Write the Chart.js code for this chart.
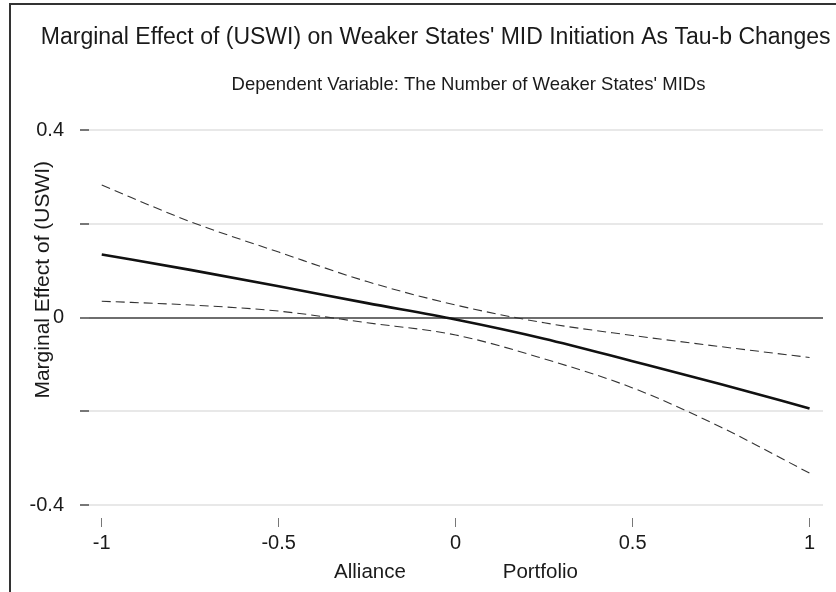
<!DOCTYPE html>
<html>
<head>
<meta charset="utf-8">
<title>Marginal Effect of (USWI)</title>
<script src="https://cdn.jsdelivr.net/npm/chart.js@4/dist/chart.umd.min.js"></script>
<style>
    html, body { margin: 0; padding: 0; background: #fff; overflow: hidden; width: 836px; height: 592px; }
    #frame { position: absolute; left: 9px; top: 3px; width: 2000px; height: 2000px; border: 2px solid #333; }
    #chart { position: absolute; left: 0; top: 0; }
</style>
</head>
<body>
<div id="frame"></div>
<canvas id="chart" width="909" height="592"></canvas>
<script>
// Tau-b values where the marginal effect was evaluated
const tauPoints = [-1, -0.75, -0.5, -0.25, 0, 0.25, 0.5, 0.75, 1];
// Marginal effect of USWI and its confidence bounds
const marginalEffect = [0.135, 0.102, 0.067, 0.031, -0.004, -0.045, -0.093, -0.142, -0.194];
const upperBound = [0.283, 0.205, 0.140, 0.077, 0.027, -0.011, -0.038, -0.062, -0.085];
const lowerBound = [0.035, 0.027, 0.014, -0.011, -0.037, -0.088, -0.150, -0.234, -0.332];

// Axis ticks
const xTickValues = [-1, -0.5, 0, 0.5, 1];
const xTickLabels = ['-1', '-0.5', '0', '0.5', '1'];
const yTickValues = [-0.4, -0.2, 0, 0.2, 0.4];
const yTickLabels = ['-0.4', '', '0', '', '0.4'];

const FONT = '"Liberation Sans", Arial, Helvetica, sans-serif';
const TEXT_COLOR = '#1a1a1a';

function toPoints(values) {
    return tauPoints.map((x, i) => ({ x: x, y: values[i] }));
}

const ciStyle = {
    borderColor: '#333',
    borderWidth: 1.1,
    borderDash: [9, 5],
    pointRadius: 0,
    cubicInterpolationMode: 'monotone',
    fill: false
};

const ctx = document.getElementById('chart');
new Chart(ctx, {
    type: 'line',
    data: {
        datasets: [
            Object.assign({ label: 'Upper bound', data: toPoints(upperBound) }, ciStyle),
            Object.assign({ label: 'Lower bound', data: toPoints(lowerBound) }, ciStyle),
            {
                label: 'Marginal effect',
                data: toPoints(marginalEffect),
                borderColor: '#111',
                borderWidth: 2.6,
                pointRadius: 0,
                cubicInterpolationMode: 'monotone',
                fill: false
            }
        ]
    },
    options: {
        responsive: false,
        animation: false,
        devicePixelRatio: 1,
        layout: {
            padding: { left: 28, right: 0, top: 0, bottom: 0 }
        },
        plugins: {
            legend: { display: false },
            tooltip: { enabled: false },
            title: {
                display: true,
                // two leading spaces set the title in from the frame like the original
                text: "  Marginal Effect of (USWI) on Weaker States' MID Initiation As Tau-b Changes",
                align: 'start',
                color: TEXT_COLOR,
                font: { family: FONT, size: 23, weight: 'normal', lineHeight: 1.2 },
                padding: { top: 24, bottom: 0 }
            },
            subtitle: {
                display: true,
                text: "Dependent Variable: The Number of Weaker States' MIDs",
                color: TEXT_COLOR,
                font: { family: FONT, size: 18.5, weight: 'normal', lineHeight: 1.2 },
                padding: { top: 22, bottom: 34.5 }
            }
        },
        scales: {
            x: {
                type: 'linear',
                min: -1.036,
                max: 1.038,
                afterBuildTicks: axis => {
                    axis.ticks = xTickValues.map(v => ({ value: v }));
                },
                afterFit: axis => {
                    axis.height = 87;
                },
                border: { display: false },
                grid: {
                    drawOnChartArea: false,
                    drawTicks: true,
                    tickLength: 22,
                    tickColor: '#777',
                    tickWidth: 1,
                    tickBorderDash: [0, 13, 9, 100]
                },
                ticks: {
                    color: TEXT_COLOR,
                    font: { family: FONT, size: 20 },
                    padding: 4,
                    maxRotation: 0,
                    callback: (value, index) => xTickLabels[index]
                },
                title: {
                    display: true,
                    text: 'Alliance                 Portfolio',
                    color: TEXT_COLOR,
                    font: { family: FONT, size: 20.5, lineHeight: 1.2 },
                    padding: { top: 0, bottom: 7 }
                }
            },
            y: {
                type: 'linear',
                position: 'left',
                min: -0.4,
                max: 0.4,
                afterBuildTicks: axis => {
                    axis.ticks = yTickValues.map(v => ({ value: v }));
                },
                afterFit: axis => {
                    axis.width = 61;
                },
                border: { display: false },
                grid: {
                    color: c => (c.tick && c.tick.value === 0 ? '#6e6e6e' : '#e8e8e8'),
                    lineWidth: 2,
                    tickLength: 9,
                    tickColor: '#777',
                    tickWidth: 2
                },
                ticks: {
                    color: TEXT_COLOR,
                    font: { family: FONT, size: 20 },
                    padding: 16,
                    callback: (value, index) => yTickLabels[index]
                },
                title: {
                    display: true,
                    // leading spaces push the label up the axis as in the original
                    text: '             Marginal Effect of (USWI)',
                    color: TEXT_COLOR,
                    font: { family: FONT, size: 21, lineHeight: 1.2 },
                    padding: { top: 3, bottom: 0 }
                }
            },
            // empty spacer on the right so the subtitle centres like the original
            yPad: {
                type: 'linear',
                position: 'right',
                display: true,
                afterFit: axis => {
                    axis.width = 86;
                },
                border: { display: false },
                grid: { display: false },
                ticks: { display: false }
            }
        }
    }
});
</script>
</body>
</html>
